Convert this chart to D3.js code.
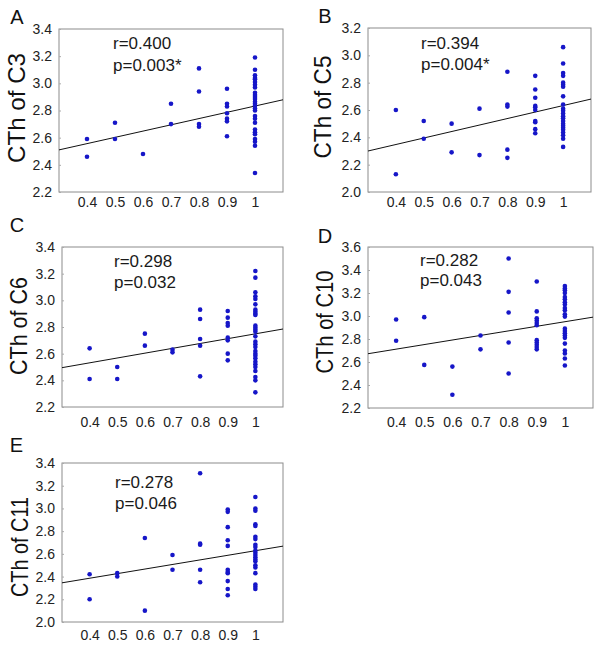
<!DOCTYPE html>
<html><head><meta charset="utf-8">
<script src="https://cdn.jsdelivr.net/npm/d3@7"></script>
<style>
html,body{margin:0;padding:0;background:#fff;}
svg{display:block;font-family:"Liberation Sans",Arial,sans-serif;}
</style></head>
<body><svg id="chart" width="601" height="651"></svg>
<script>
// ---------- data ----------
const xTickValues = [0.4, 0.5, 0.6, 0.7, 0.8, 0.9, 1];
const xTickLabels = ["0.4", "0.5", "0.6", "0.7", "0.8", "0.9", "1"];
const xDomain = [0.3, 1.1];

const panelLetters = ["A", "B", "C", "D", "E"];
const yTitles = ["CTh of C3", "CTh of C5", "CTh of C6", "CTh of C10", "CTh of C11"];
const rTexts = ["r=0.400", "r=0.394", "r=0.298", "r=0.282", "r=0.278"];
const pTexts = ["p=0.003*", "p=0.004*", "p=0.032", "p=0.043", "p=0.046"];

const yTicksA = [2.2, 2.4, 2.6, 2.8, 3.0, 3.2, 3.4];
const yTicksB = [2.0, 2.2, 2.4, 2.6, 2.8, 3.0, 3.2];
const yTicksC = [2.2, 2.4, 2.6, 2.8, 3.0, 3.2, 3.4];
const yTicksD = [2.2, 2.4, 2.6, 2.8, 3.0, 3.2, 3.4, 3.6];
const yTicksE = [2.0, 2.2, 2.4, 2.6, 2.8, 3.0, 3.2, 3.4];

// points grouped by x value: [x, [y values]]
const ctC3 = [
  [0.4, [2.59, 2.46]],
  [0.5, [2.71, 2.59]],
  [0.6, [2.48]],
  [0.7, [2.85, 2.70]],
  [0.8, [3.11, 2.94, 2.70, 2.68]],
  [0.9, [2.96, 2.85, 2.83, 2.78, 2.74, 2.72, 2.61]],
  [1.0, [3.19, 3.10, 3.06, 3.04, 3.03, 3.01, 2.99, 2.97, 2.93, 2.915, 2.90, 2.885, 2.865, 2.85, 2.835, 2.815, 2.80, 2.76, 2.74, 2.71, 2.66, 2.64, 2.625, 2.59, 2.57, 2.54, 2.34]]
];
const ctC5 = [
  [0.4, [2.60, 2.13]],
  [0.5, [2.52, 2.39]],
  [0.6, [2.50, 2.29]],
  [0.7, [2.61, 2.27]],
  [0.8, [2.88, 2.64, 2.625, 2.31, 2.25]],
  [0.9, [2.85, 2.75, 2.69, 2.63, 2.62, 2.60, 2.52, 2.51, 2.46, 2.43]],
  [1.0, [3.06, 2.94, 2.87, 2.85, 2.80, 2.785, 2.77, 2.70, 2.64, 2.61, 2.595, 2.575, 2.555, 2.54, 2.52, 2.50, 2.485, 2.47, 2.455, 2.435, 2.415, 2.39, 2.33]]
];
const ctC6 = [
  [0.4, [2.64, 2.41]],
  [0.5, [2.50, 2.41]],
  [0.6, [2.75, 2.66]],
  [0.7, [2.63, 2.61]],
  [0.8, [2.93, 2.86, 2.71, 2.66, 2.43]],
  [0.9, [2.92, 2.87, 2.83, 2.81, 2.72, 2.70, 2.60, 2.55]],
  [1.0, [3.22, 3.17, 3.06, 3.03, 3.01, 2.97, 2.93, 2.915, 2.90, 2.89, 2.81, 2.795, 2.78, 2.765, 2.73, 2.69, 2.67, 2.65, 2.62, 2.60, 2.585, 2.565, 2.54, 2.52, 2.50, 2.47, 2.425, 2.40, 2.31]]
];
const ctC10 = [
  [0.4, [2.97, 2.785]],
  [0.5, [2.99, 2.575]],
  [0.6, [2.56, 2.315]],
  [0.7, [2.83, 2.71]],
  [0.8, [3.50, 3.21, 3.03, 2.77, 2.50]],
  [0.9, [3.30, 3.04, 2.98, 2.96, 2.94, 2.92, 2.79, 2.77, 2.75, 2.73, 2.71]],
  [1.0, [3.26, 3.24, 3.225, 3.20, 3.165, 3.145, 3.12, 3.10, 3.07, 3.05, 3.015, 2.995, 2.89, 2.87, 2.85, 2.83, 2.81, 2.76, 2.70, 2.675, 2.63, 2.57]]
];
const ctC11 = [
  [0.4, [2.42, 2.20]],
  [0.5, [2.43, 2.40]],
  [0.6, [2.74, 2.10]],
  [0.7, [2.59, 2.46]],
  [0.8, [3.31, 2.69, 2.68, 2.46, 2.35]],
  [0.9, [2.99, 2.97, 2.835, 2.72, 2.67, 2.46, 2.44, 2.43, 2.36, 2.29, 2.235]],
  [1.0, [3.10, 3.00, 2.98, 2.86, 2.845, 2.75, 2.73, 2.68, 2.66, 2.63, 2.61, 2.59, 2.57, 2.55, 2.535, 2.50, 2.48, 2.43, 2.33, 2.31, 2.29]]
];

// regression line end points [[x0,y0],[x1,y1]]
const fitC3 = [[0.3, 2.51], [1.1, 2.879]];
const fitC5 = [[0.3, 2.30], [1.1, 2.68]];
const fitC6 = [[0.3, 2.495], [1.1, 2.785]];
const fitC10 = [[0.3, 2.672], [1.1, 2.99]];
const fitC11 = [[0.3, 2.345], [1.1, 2.668]];

// ---------- layout ----------
const panels = [
  {pts: ctC3, fit: fitC3, yTicks: yTicksA, box: {l: 59, r: 283, t: 29, b: 192}, xPad: 5,
   letter: [17, 24], title: [16, 108, 110], ann: [113, 49, 71]},
  {pts: ctC5, fit: fitC5, yTicks: yTicksB, box: {l: 368, r: 591, t: 28, b: 192}, xPad: 5,
   letter: [325, 22.5], title: [322, 107, 103], ann: [421, 49, 70]},
  {pts: ctC6, fit: fitC6, yTicks: yTicksC, box: {l: 62, r: 283, t: 247, b: 407}, xPad: 10,
   letter: [17, 232], title: [18, 326, 98], ann: [114, 267, 288]},
  {pts: ctC10, fit: fitC10, yTicks: yTicksD, box: {l: 368, r: 593, t: 247, b: 408}, xPad: 9,
   letter: [325, 242.5], title: [324, 322, 103], ann: [420, 265.5, 286]},
  {pts: ctC11, fit: fitC11, yTicks: yTicksE, box: {l: 62, r: 283, t: 463, b: 622}, xPad: 8,
   letter: [16.5, 451.5], title: [19, 547, 100], ann: [115, 488, 509]}
];

const svg = d3.select("#chart");
const dotColor = "#1616c8";

panels.forEach((p, i) => {
  const b = p.box;
  const x = d3.scaleLinear().domain(xDomain).range([b.l, b.r]);
  const yExt = d3.extent(p.yTicks);
  const y = d3.scaleLinear().domain(yExt).range([b.b, b.t]);
  const g = svg.append("g");

  // frame
  g.append("rect").attr("x", b.l).attr("y", b.t).attr("width", b.r - b.l).attr("height", b.b - b.t)
    .attr("fill", "none").attr("stroke", "#8c8c8c").attr("stroke-width", 1);

  // y axis
  const ya = g.append("g").attr("transform", `translate(${b.l},0)`)
    .call(d3.axisLeft(y).tickValues(p.yTicks).tickFormat(d3.format(".1f")).tickSize(-2).tickPadding(7));
  ya.select(".domain").remove();
  ya.selectAll("line").attr("stroke", "#aaa");
  ya.selectAll("text").attr("font-size", 14).attr("fill", "#222").attr("font-family", "Liberation Sans, Arial, sans-serif");

  // x axis
  const xa = g.append("g").attr("transform", `translate(0,${b.b})`)
    .call(d3.axisBottom(x).tickValues(xTickValues).tickFormat((d, k) => xTickLabels[k]).tickSize(0).tickPadding(p.xPad));
  xa.select(".domain").remove();
  xa.selectAll("text").attr("font-size", 14).attr("fill", "#222").attr("font-family", "Liberation Sans, Arial, sans-serif");

  // regression line
  g.append("line")
    .attr("x1", x(p.fit[0][0])).attr("y1", y(p.fit[0][1]))
    .attr("x2", x(p.fit[1][0])).attr("y2", y(p.fit[1][1]))
    .attr("stroke", "#111").attr("stroke-width", 1);

  // points
  const flat = [];
  p.pts.forEach(([xv, ys]) => ys.forEach(yv => flat.push([xv, yv])));
  g.selectAll("circle").data(flat).join("circle")
    .attr("cx", d => x(d[0])).attr("cy", d => y(d[1])).attr("r", 2.3)
    .attr("fill", dotColor);

  // annotations
  g.append("text").attr("x", p.ann[0]).attr("y", p.ann[1]).attr("font-size", 17).attr("fill", "#1a1a1a").text(rTexts[i]);
  g.append("text").attr("x", p.ann[0]).attr("y", p.ann[2]).attr("font-size", 17).attr("fill", "#1a1a1a").text(pTexts[i]);

  // panel letter
  g.append("text").attr("x", p.letter[0]).attr("y", p.letter[1]).attr("text-anchor", "middle")
    .attr("font-size", 20).attr("fill", "#111").text(panelLetters[i]);

  // y title
  g.append("text").attr("transform", `translate(${p.title[0]},${p.title[1]}) rotate(-90)`)
    .attr("text-anchor", "middle").attr("dy", "0.36em").attr("font-size", 24).attr("fill", "#111")
    .attr("textLength", p.title[2]).attr("lengthAdjust", "spacingAndGlyphs")
    .text(yTitles[i]);
});
</script>
</body></html>
